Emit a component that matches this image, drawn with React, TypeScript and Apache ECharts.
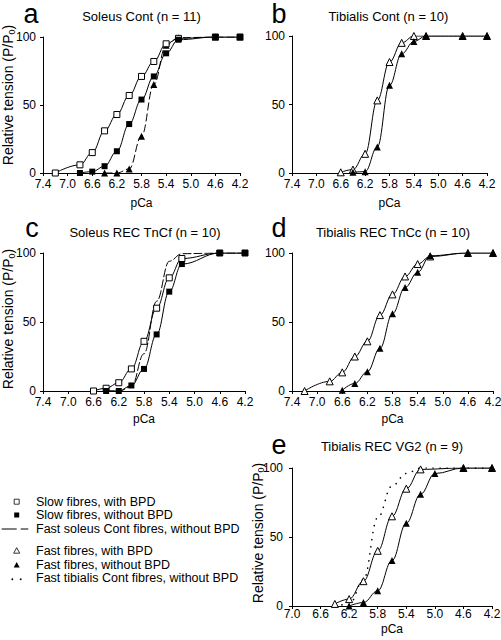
import React, { useEffect, useRef } from 'react';
import * as echarts from 'echarts';

const FONT = '"Liberation Sans", Arial, Helvetica, sans-serif';

// ---- Panel a: Soleus Cont (n = 11)
const aOpenX = [7.2, 6.8, 6.6, 6.4, 6.2, 6.0, 5.8, 5.6, 5.4, 5.2, 4.6, 4.2];
const aOpenY = [0, 6, 15, 31, 43, 57, 71, 82, 95, 99, 100, 100];
const aFilledX = [6.8, 6.6, 6.4, 6.2, 6.0, 5.8, 5.6, 5.4, 5.2, 4.6, 4.2];
const aFilledY = [0, 1, 5, 16, 36, 54, 71, 88, 98, 100, 100];
const aTriX = [6.4, 6.2, 6.0, 5.8, 5.6, 5.4, 5.2, 4.6, 4.2];
const aTriY = [0, 0, 3, 27, 65, 94, 99.5, 100, 100];

// ---- Panel b: Tibialis Cont (n = 10)
const bOpenX = [6.6, 6.4, 6.2, 6.0, 5.8, 5.6, 5.4, 5.2, 4.6, 4.2];
const bOpenY = [0.5, 2.5, 14, 53, 81, 95, 100, 100, 100, 100];
const bFilledX = [6.4, 6.2, 6.0, 5.8, 5.6, 5.4, 5.2, 4.6, 4.2];
const bFilledY = [0.5, 1, 19, 64, 87, 96, 100, 100, 100];

// ---- Panel c: Soleus REC TnCf (n = 10)
const cOpenX = [6.6, 6.4, 6.2, 6.0, 5.8, 5.6, 5.4, 5.2, 4.6, 4.2];
const cOpenY = [0, 2, 6, 16, 36, 60, 82, 96, 100, 100];
const cFilledX = [6.4, 6.2, 6.0, 5.8, 5.6, 5.4, 5.2, 4.6, 4.2];
const cFilledY = [0, 0, 4, 16, 41, 72, 92, 100, 100];

// ---- Panel d: Tibialis REC TnCc (n = 10)
const dOpenX = [7.2, 6.8, 6.6, 6.4, 6.2, 6.0, 5.8, 5.6, 5.4, 5.2, 4.6, 4.2];
const dOpenY = [0, 7, 13.5, 25, 36, 55, 70, 83, 92, 97.5, 100, 100];
const dFilledX = [6.6, 6.4, 6.2, 6.0, 5.8, 5.6, 5.4, 5.2, 4.6, 4.2];
const dFilledY = [0.5, 5.5, 14, 31, 56, 75, 86, 98, 100, 100];

// ---- Panel e: Tibialis REC VG2 (n = 9)
const eOpenX = [6.4, 6.2, 6.0, 5.8, 5.6, 5.4, 5.2, 4.6, 4.2];
const eOpenY = [1.5, 5, 18, 40, 65, 85, 99, 100, 100];
const eFilledX = [6.2, 6.0, 5.8, 5.6, 5.4, 5.2, 5.0, 4.6, 4.2];
const eFilledY = [0, 2.5, 11, 33, 60, 81, 96, 100, 100];

// ---- Tick labels
const ticksWide = [7.4, 7.0, 6.6, 6.2, 5.8, 5.4, 5.0, 4.6, 4.2];
const ticksE = [7.0, 6.6, 6.2, 5.8, 5.4, 5.0, 4.6, 4.2];
const yTicks = [0, 50, 100];

const panelTitles = [
  'Soleus Cont (n = 11)',
  'Tibialis Cont (n = 10)',
  'Soleus REC TnCf (n = 10)',
  'Tibialis REC TnCc (n = 10)',
  'Tibialis REC VG2 (n = 9)',
];
const panelLetters = ['a', 'b', 'c', 'd', 'e'];

const legendLabels = [
  'Slow fibres, with BPD',
  'Slow fibres, without BPD',
  'Fast soleus Cont fibres, without BPD',
  'Fast fibres, with BPD',
  'Fast fibres, without BPD',
  'Fast tibialis Cont fibres, without BPD',
];

const pair = (xs: number[], ys: number[]) => xs.map((x, i) => [x, ys[i]]);

function buildOption() {
  const grids = [
    { left: 43, top: 37, width: 197, height: 136 },
    { left: 292, top: 36, width: 195, height: 137 },
    { left: 43, top: 253, width: 202, height: 138 },
    { left: 292, top: 253, width: 201, height: 138 },
    { left: 292, top: 468, width: 200, height: 138 },
  ].map((g) => ({ ...g, containLabel: false, outerBoundsMode: 'none' }));

  const nameGaps = [24, 24, 22, 22, 17];
  const labelMargins = [5, 5, 5, 5, 2];
  const yLabelMargins = [7, 7, 7, 7, 9];

  const xAxis = grids.map((_, i) => {
    const ticks = i === 4 ? ticksE : ticksWide;
    return {
      type: 'value',
      gridIndex: i,
      min: 4.2,
      max: i === 4 ? 7.0 : 7.4,
      inverse: true,
      name: 'pCa',
      nameLocation: 'middle',
      nameGap: nameGaps[i],
      nameTextStyle: { fontSize: 12, color: '#000', fontFamily: FONT },
      axisLine: { show: true, onZero: false, lineStyle: { color: '#000', width: 1 } },
      axisTick: { show: true, length: 3, customValues: ticks, lineStyle: { color: '#000', width: 1 } },
      axisLabel: {
        customValues: ticks,
        formatter: (v: number) => v.toFixed(1),
        fontSize: 12,
        color: '#000',
        fontFamily: FONT,
        margin: labelMargins[i],
      },
      splitLine: { show: false },
    };
  });

  const yAxis = grids.map((_, i) => ({
    type: 'value',
    gridIndex: i,
    min: 0,
    max: 100,
    interval: 50,
    axisLine: { show: true, onZero: false, lineStyle: { color: '#000', width: 1 } },
    axisTick: { show: true, length: 3, customValues: yTicks, lineStyle: { color: '#000', width: 1 } },
    axisLabel: { fontSize: 12, color: '#000', fontFamily: FONT, margin: yLabelMargins[i] },
    splitLine: { show: false },
  }));

  const base = (idx: number) => ({
    type: 'line',
    xAxisIndex: idx,
    yAxisIndex: idx,
    smooth: 0.4,
    smoothMonotone: 'x',
    lineStyle: { color: '#000', width: 1 },
    emphasis: { disabled: true },
    silent: true,
  });
  const openSq = (idx: number, xs: number[], ys: number[]) => ({
    ...base(idx),
    data: pair(xs, ys),
    symbol: 'rect',
    symbolSize: 6,
    itemStyle: { color: '#fff', borderColor: '#000', borderWidth: 1 },
  });
  const fillSq = (idx: number, xs: number[], ys: number[]) => ({
    ...base(idx),
    data: pair(xs, ys),
    symbol: 'rect',
    symbolSize: 6,
    itemStyle: { color: '#000', borderColor: '#000', borderWidth: 0 },
  });
  const openTri = (idx: number, xs: number[], ys: number[]) => ({
    ...base(idx),
    data: pair(xs, ys),
    symbol: 'triangle',
    symbolSize: 7,
    itemStyle: { color: '#fff', borderColor: '#000', borderWidth: 1 },
  });
  const fillTri = (idx: number, xs: number[], ys: number[], dashed = false) => ({
    ...base(idx),
    data: pair(xs, ys),
    symbol: 'triangle',
    symbolSize: 7,
    itemStyle: { color: '#000', borderColor: '#000', borderWidth: 0 },
    lineStyle: { color: '#000', width: 1, type: dashed ? [8, 3] : 'solid' },
  });
  const refLine = (idx: number, xs: number[], ys: number[], dash: number[], width: number) => ({
    ...base(idx),
    data: pair(xs, ys),
    symbol: 'none',
    lineStyle: { color: '#000', width, type: dash, cap: 'round' },
  });

  const series = [
    // a
    fillTri(0, aTriX, aTriY, true),
    openSq(0, aOpenX, aOpenY),
    fillSq(0, aFilledX, aFilledY),
    // b
    openTri(1, bOpenX, bOpenY),
    fillTri(1, bFilledX, bFilledY),
    // c
    refLine(2, aTriX, aTriY, [8, 3], 1),
    openSq(2, cOpenX, cOpenY),
    fillSq(2, cFilledX, cFilledY),
    // d
    openTri(3, dOpenX, dOpenY),
    fillTri(3, dFilledX, dFilledY),
    // e
    refLine(4, bFilledX, bFilledY, [0.1, 7], 1.6),
    openTri(4, eOpenX, eOpenY),
    fillTri(4, eFilledX, eFilledY),
  ];

  const letterPos = [
    [31, 13.5],
    [279, 13.5],
    [32, 228],
    [279, 228],
    [279, 444.5],
  ];
  const titlePos = [
    [141.5, 16.7],
    [388.5, 16.7],
    [145, 232.3],
    [393, 232.3],
    [392, 446.7],
  ];
  const yNamePos = [
    [8, 95],
    [8, 319],
    [257.5, 533],
  ];

  const graphic: any[] = [];
  panelLetters.forEach((l, i) => {
    graphic.push({
      type: 'text',
      x: letterPos[i][0],
      y: letterPos[i][1],
      silent: true,
      style: { text: l, font: `27px ${FONT}`, fill: '#000', align: 'center', verticalAlign: 'middle' },
    });
  });
  panelTitles.forEach((t, i) => {
    graphic.push({
      type: 'text',
      x: titlePos[i][0],
      y: titlePos[i][1],
      silent: true,
      style: { text: t, font: `13px ${FONT}`, fill: '#000', align: 'center', verticalAlign: 'middle' },
    });
  });
  yNamePos.forEach((p) => {
    graphic.push({
      type: 'text',
      x: p[0],
      y: p[1],
      rotation: Math.PI / 2,
      silent: true,
      style: {
        text: 'Relative tension (P/P{sub|0})',
        font: `14px ${FONT}`,
        fontSize: 14,
        fontFamily: FONT,
        fill: '#000',
        align: 'center',
        verticalAlign: 'middle',
        lineHeight: 16,
        rich: {
          sub: { fontSize: 9, fontFamily: FONT, fill: '#000', lineHeight: 9, verticalAlign: 'bottom' },
        },
      },
    });
  });

  // legend
  const rowY = [501.7, 515, 529, 550.7, 565, 578.3];
  const mx = 16.7;
  graphic.push({
    type: 'rect',
    silent: true,
    shape: { x: mx - 2.5, y: rowY[0] - 2.5, width: 5, height: 5 },
    style: { fill: '#fff', stroke: '#000', lineWidth: 0.8 },
  });
  graphic.push({
    type: 'rect',
    silent: true,
    shape: { x: mx - 2.5, y: rowY[1] - 2.5, width: 5, height: 5 },
    style: { fill: '#000' },
  });
  graphic.push({
    type: 'line',
    silent: true,
    shape: { x1: 1.7, y1: rowY[2], x2: 16.7, y2: rowY[2] },
    style: { stroke: '#000', lineWidth: 1 },
  });
  graphic.push({
    type: 'line',
    silent: true,
    shape: { x1: 20.7, y1: rowY[2], x2: 28.3, y2: rowY[2] },
    style: { stroke: '#000', lineWidth: 1 },
  });
  graphic.push({
    type: 'polygon',
    silent: true,
    shape: { points: [[mx, rowY[3] - 3], [mx + 3, rowY[3] + 2.5], [mx - 3, rowY[3] + 2.5]] },
    style: { fill: '#fff', stroke: '#000', lineWidth: 0.8 },
  });
  graphic.push({
    type: 'polygon',
    silent: true,
    shape: { points: [[mx, rowY[4] - 3], [mx + 3, rowY[4] + 2.5], [mx - 3, rowY[4] + 2.5]] },
    style: { fill: '#000' },
  });
  [12.3, 20.7].forEach((cx) => {
    graphic.push({
      type: 'circle',
      silent: true,
      shape: { cx, cy: rowY[5] + 1, r: 0.9 },
      style: { fill: '#000' },
    });
  });
  legendLabels.forEach((t, i) => {
    graphic.push({
      type: 'text',
      x: 36,
      y: rowY[i],
      silent: true,
      style: { text: t, font: `12.5px ${FONT}`, fill: '#000', align: 'left', verticalAlign: 'middle' },
    });
  });

  return {
    animation: false,
    backgroundColor: '#fff',
    grid: grids,
    xAxis,
    yAxis,
    series,
    graphic: { elements: graphic },
    tooltip: { show: false },
  };
}

export default function App() {
  const ref = useRef<HTMLDivElement>(null);
  useEffect(() => {
    document.body.style.margin = '0';
    const chart = echarts.init(ref.current as HTMLDivElement, null, { renderer: 'svg' });
    chart.setOption(buildOption() as any);
    return () => chart.dispose();
  }, []);
  return <div ref={ref} style={{ position: 'relative', width: 501, height: 640, background: '#fff' }} />;
}
